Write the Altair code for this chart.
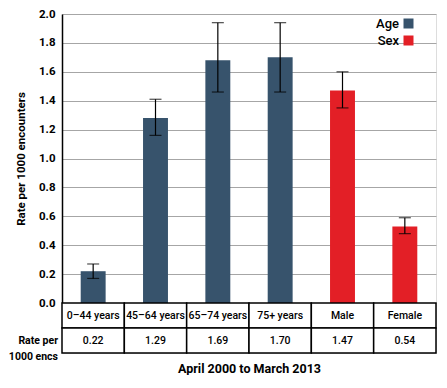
import altair as alt
import pandas as pd

categories = ["0–44 years", "45–64 years", "65–74 years", "75+ years", "Male", "Female"]
groups = ["Age", "Age", "Age", "Age", "Sex", "Sex"]
rates = [0.22, 1.28, 1.68, 1.70, 1.47, 0.53]
ci_low = [0.17, 1.16, 1.46, 1.46, 1.35, 0.48]
ci_high = [0.27, 1.41, 1.94, 1.94, 1.60, 0.59]
table_values = ["0.22", "1.29", "1.69", "1.70", "1.47", "0.54"]
row_names = ["name", "value"]
row_label = "Rate per\n1000 encs"
x_title = "April 2000 to March 2013"
y_title = "Rate per 1000 encounters"
y_ticks = [0.0, 0.2, 0.4, 0.6, 0.8, 1.0, 1.2, 1.4, 1.6, 1.8, 2.0]
group_names = ["Age", "Sex"]
group_colors = ["#37536c", "#e31f26"]

FONT = "Roboto"
W = 374
HP = 289
HT = 50

bars_df = pd.DataFrame(dict(cat=categories, group=groups, rate=rates, lo=ci_low, hi=ci_high))
table_df = pd.DataFrame({
    "cat": categories * 2,
    "row": [row_names[0]] * 6 + [row_names[1]] * 6,
    "txt": categories + table_values,
})
rowlab_df = pd.DataFrame({"row": [row_names[1]], "txt": [row_label]})

xb = alt.X("cat:N", sort=categories,
           scale=alt.Scale(domain=categories, paddingInner=0.6, paddingOuter=0.3),
           axis=None)
yscale = alt.Scale(domain=[0, 2], range=[HP, 0], nice=False)
yaxis = alt.Axis(title=y_title, values=y_ticks, tickCount=11, format=".1f", ticks=False,
                 labelOverlap=False,
                 labelPadding=7, labelFontWeight="bold", labelFontSize=11.5,
                 titleFontWeight="bold", titleFontSize=11.5, titlePadding=12,
                 domainColor="black", domainWidth=1.5,
                 gridColor="#a6a6a6", gridWidth=1, labelColor="black", titleColor="black")

base = alt.Chart(bars_df)
bars = base.mark_bar().encode(
    x=xb,
    y=alt.Y("rate:Q", scale=yscale, axis=yaxis),
    color=alt.Color("group:N",
                    scale=alt.Scale(domain=group_names, range=group_colors),
                    legend=alt.Legend(orient="none", legendX=340, legendY=3,
                                      direction="vertical", symbolType="square",
                                      symbolSize=100, symbolStrokeWidth=0,
                                      labelAlign="right", labelOffset={"expr": "-16"},
                                      labelFontSize=13, labelFont=FONT,
                                      labelFontWeight=500,
                                      labelColor="black", title=None,
                                      rowPadding=3, padding=0)),
)
err = base.mark_rule(color="black", strokeWidth=1.2).encode(
    x=xb, y=alt.Y("lo:Q", scale=yscale, axis=yaxis), y2="hi:Q")
cap_hi = base.mark_tick(color="black", size=12, thickness=1.2).encode(
    x=xb, y=alt.Y("hi:Q", scale=yscale, axis=yaxis))
cap_lo = base.mark_tick(color="black", size=12, thickness=1.2).encode(
    x=xb, y=alt.Y("lo:Q", scale=yscale, axis=yaxis))
main = alt.layer(bars, err, cap_hi, cap_lo)

xt = alt.X("cat:N", sort=categories,
           scale=alt.Scale(domain=categories, paddingInner=0, paddingOuter=0),
           axis=alt.Axis(title=x_title, labels=False, ticks=False, domain=False,
                         titlePadding=9, titleFontSize=12.5, titleFontWeight="bold",
                         titleColor="black"))
yt = alt.Y("row:N", scale=alt.Scale(domain=row_names, range=[HP, HP + HT],
                                    paddingInner=0, paddingOuter=0), axis=None)
tbase = alt.Chart(table_df)
cells = tbase.mark_rect(fill="white", stroke="black", strokeWidth=1.5).encode(x=xt, y=yt)
cell_txt = tbase.mark_text(fontSize=10.5, font=FONT, fontWeight=500, color="black").encode(
    x=xt, y=yt, text="txt:N")
row_txt = alt.Chart(rowlab_df).mark_text(
    fontSize=10.5, font=FONT, fontWeight="bold", align="right", lineBreak="\n",
    lineHeight=16, color="black").encode(
    x=alt.value(-4), y=yt, text="txt:N")
table = alt.layer(cells, cell_txt, row_txt)

chart = alt.layer(main, table).resolve_scale(
    x="independent", y="independent"
).properties(
    width=W, height=HP + HT,
    padding={"left": 0, "top": 0, "right": 0, "bottom": 0},
).configure_view(stroke=None).configure(font=FONT)

chart.save("out.html", embed_options={"renderer": "svg", "actions": False})
